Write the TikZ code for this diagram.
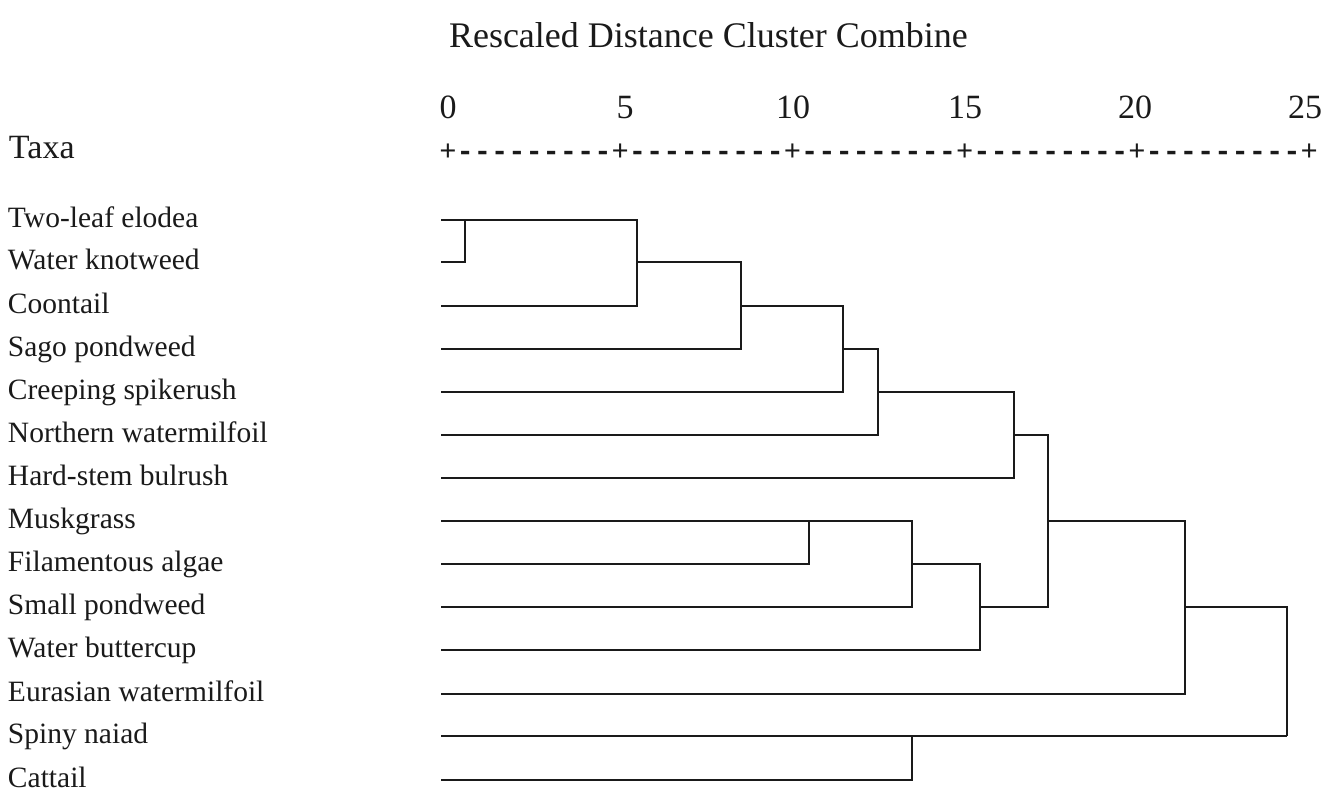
\documentclass[tikz,border=0pt]{standalone}
\usepackage{fontspec}
\setmainfont{Liberation Serif}
\setmonofont{Liberation Mono}
\definecolor{ink}{HTML}{1A1A1A}
\newcommand{\rulerdashes}{\textbf{---------}}

\begin{document}
\begin{tikzpicture}[x=0.5pt,y=-0.5pt,
    every node/.style={inner sep=0pt,outer sep=0pt,text=ink},
    heading/.style={anchor=base west,font=\fontsize{18pt}{20pt}\selectfont},
    ticklabel/.style={anchor=base,font=\fontsize{17pt}{19pt}\selectfont},
    ruler/.style={anchor=base west,font=\ttfamily\fontsize{14.35pt}{16pt}\selectfont},
    taxon/.style={anchor=base west,font=\fontsize{14.75pt}{16pt}\selectfont},
    branch/.style={draw=ink,line width=1pt}]
\useasboundingbox (0,0) rectangle (1328,789);

% headings and scale
\node[heading] (title) at (449,47) {Rescaled Distance Cluster Combine};
\node[heading,font=\fontsize{17pt}{19pt}\selectfont] (taxa) at (9,158) {Taxa};
\foreach \v/\x in {0/448,5/625,10/793,15/965,20/1135,25/1305}
  \node[ticklabel] (n\v) at (\x,118) {\v};
\node[ruler] (scale) at (439.4,160)
  {+\rulerdashes+\rulerdashes+\rulerdashes+\rulerdashes+\rulerdashes+};

% taxa and the start of their branches
\foreach \i/\y/\name in {
   1/220/Two-leaf elodea,
   2/262/Water knotweed,
   3/306/Coontail,
   4/349/Sago pondweed,
   5/392/Creeping spikerush,
   6/435/Northern watermilfoil,
   7/478/Hard-stem bulrush,
   8/521/Muskgrass,
   9/564/Filamentous algae,
  10/607/Small pondweed,
  11/650/Water buttercup,
  12/694/Eurasian watermilfoil,
  13/736/Spiny naiad,
  14/780/Cattail}{
  \node[taxon] (t\i) at (8,\y+7) {\name};
  \coordinate (l\i) at (441,\y);
}

% merge points (x = combine distance, y = row of the merged cluster)
\coordinate (j1) at (465,220);
\coordinate (j2) at (637,262);
\coordinate (j3) at (741,306);
\coordinate (j4) at (843,349);
\coordinate (j5) at (878,392);
\coordinate (j6) at (1014,435);
\coordinate (k1) at (809,521);
\coordinate (k2) at (912,564);
\coordinate (k3) at (980,607);
\coordinate (j7) at (1048,521);
\coordinate (j8) at (1185,607);
\coordinate (m1) at (912,736);
\coordinate (j9) at (1287,736);

% dendrogram
\draw[branch] (l2) -| (j1);
\draw[branch] (l1) -| (j2);
\draw[branch] (l3) -| (j2);
\draw[branch] (j2) -| (j3);
\draw[branch] (l4) -| (j3);
\draw[branch] (j3) -| (j4);
\draw[branch] (l5) -| (j4);
\draw[branch] (j4) -| (j5);
\draw[branch] (l6) -| (j5);
\draw[branch] (j5) -| (j6);
\draw[branch] (l7) -| (j6);
\draw[branch] (j6) -| (j7);
\draw[branch] (l9) -| (k1);
\draw[branch] (l8) -| (k2);
\draw[branch] (l10) -| (k2);
\draw[branch] (k2) -| (k3);
\draw[branch] (l11) -| (k3);
\draw[branch] (k3) -| (j7);
\draw[branch] (j7) -| (j8);
\draw[branch] (l12) -| (j8);
\draw[branch] (j8) -| (j9);
\draw[branch] (l13) -- (j9);
\draw[branch] (l14) -| (m1);
\end{tikzpicture}
\end{document}
